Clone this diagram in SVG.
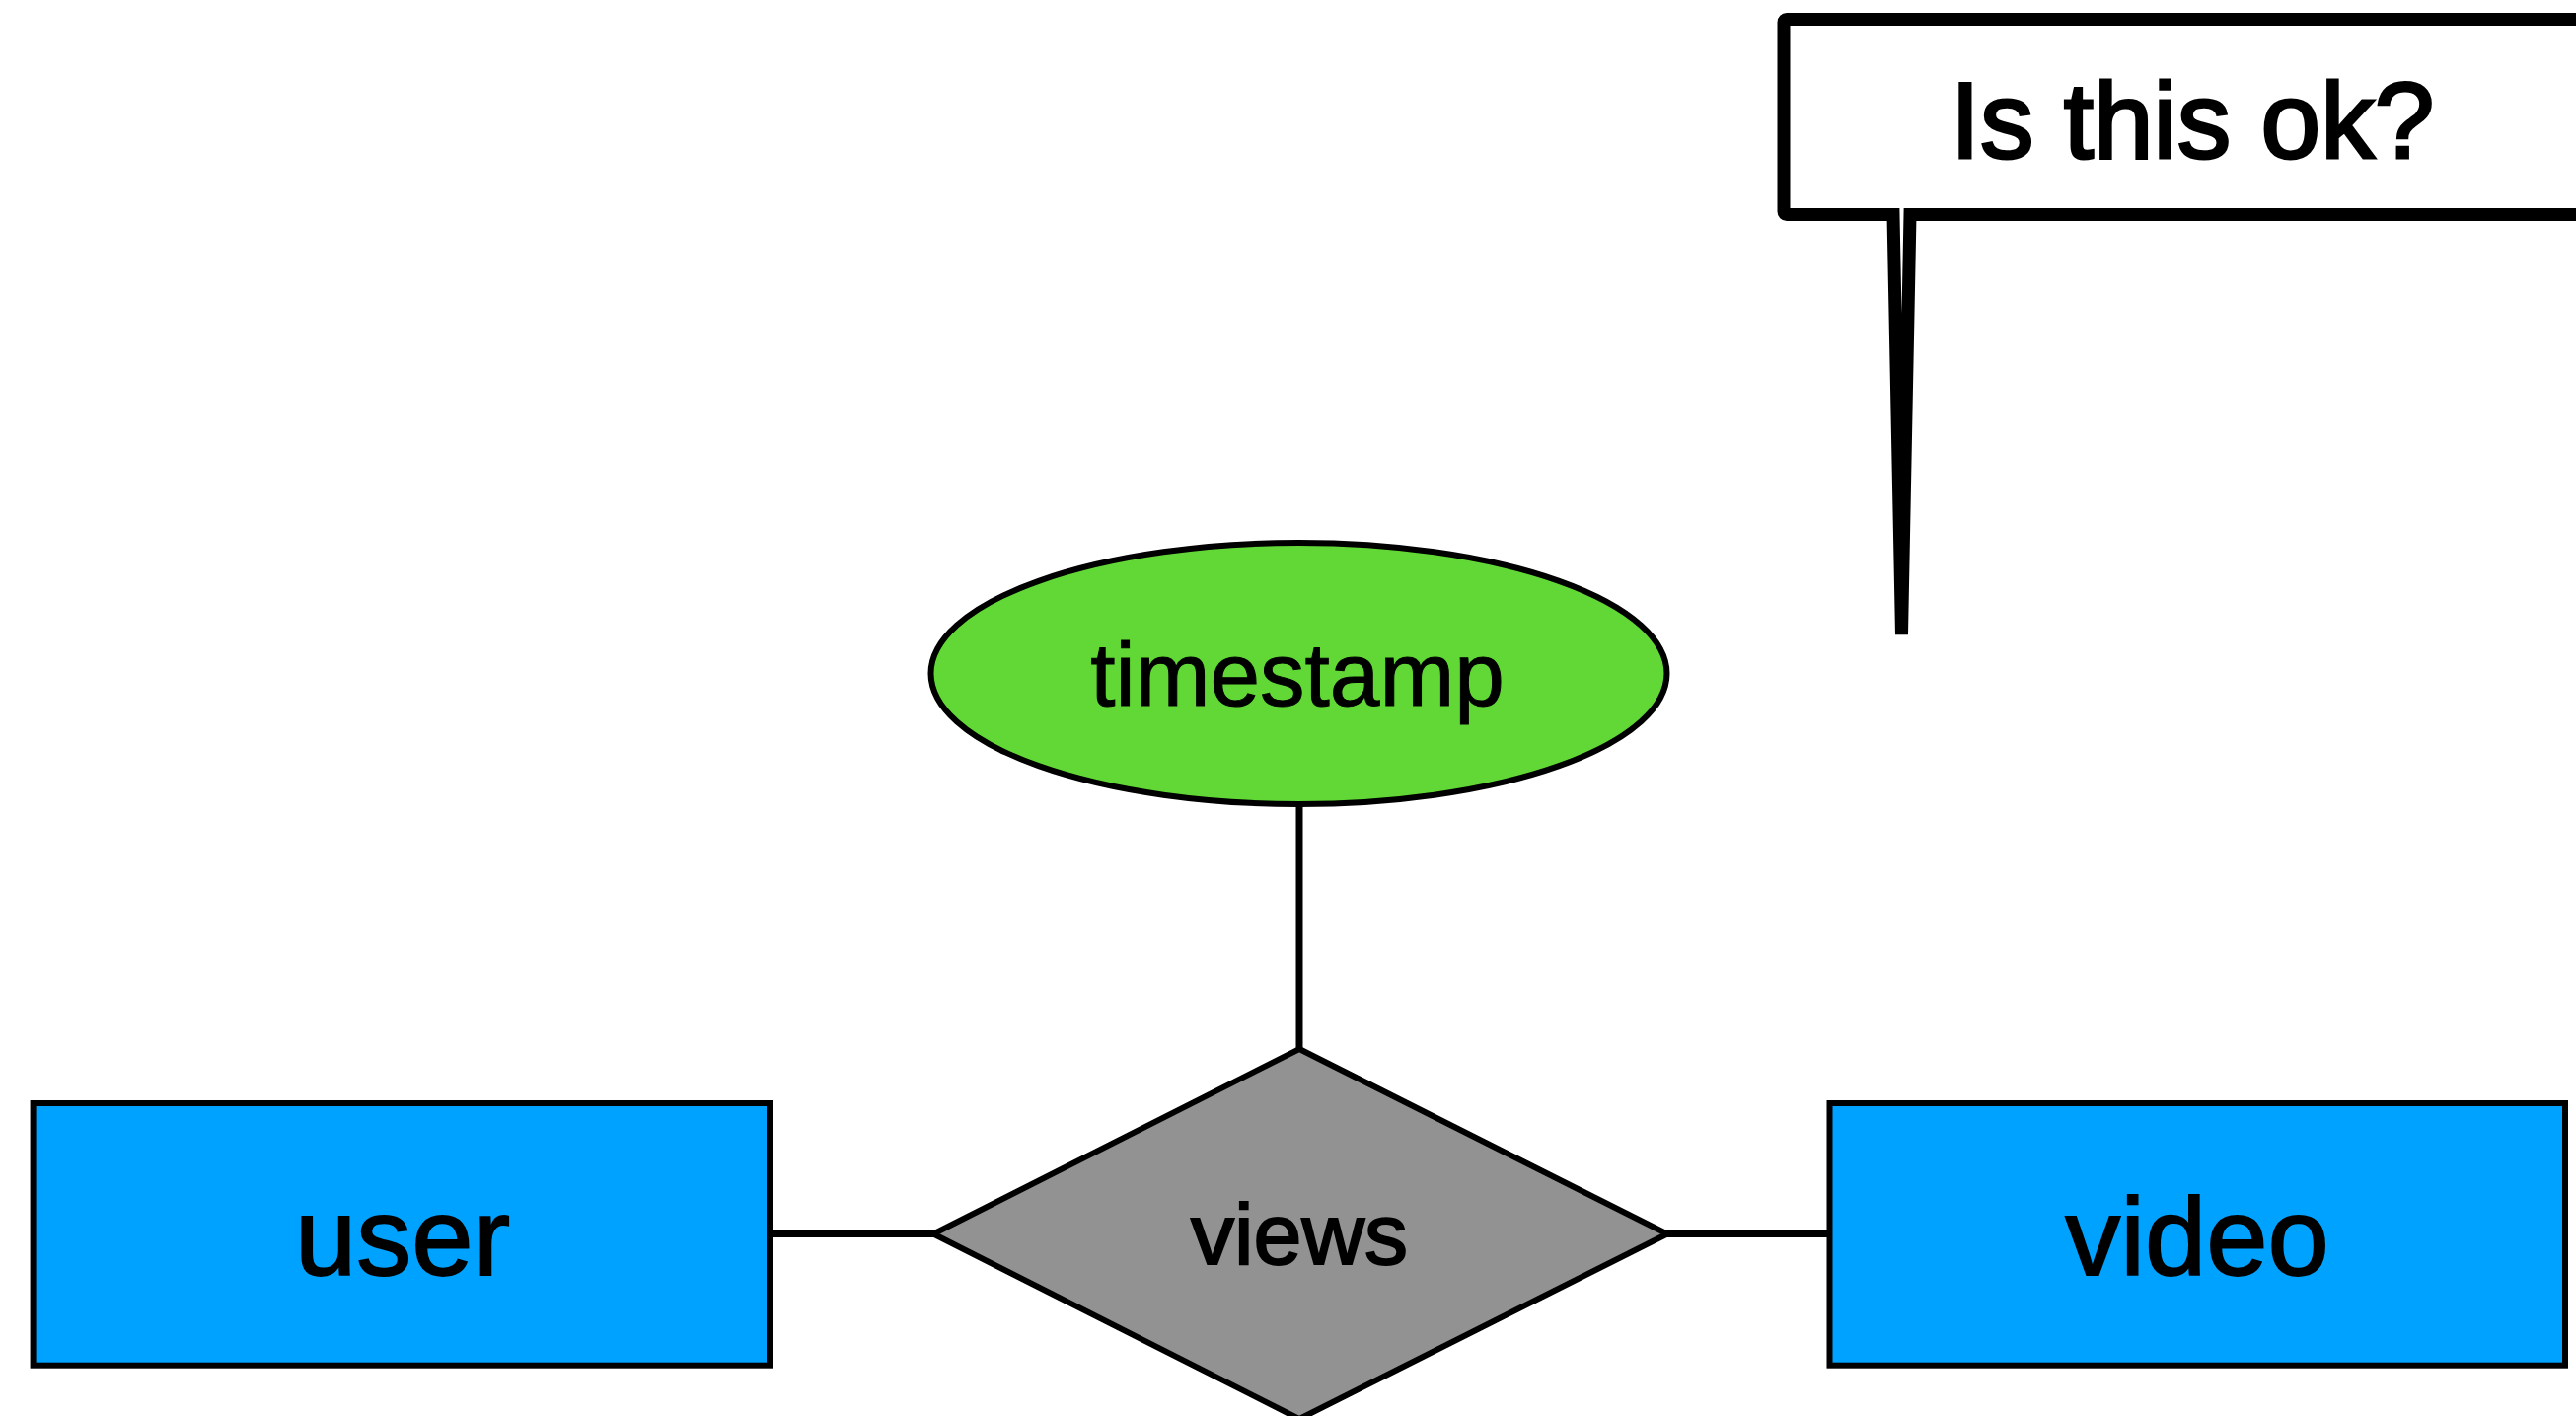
<svg xmlns="http://www.w3.org/2000/svg" width="2611" height="1435" viewBox="0 0 2611 1435">
  <style>
    .lbl { font-family: "Liberation Sans", Arial, Helvetica, sans-serif; fill: #000; stroke: #000; text-anchor: middle; }
    .entity { fill: #00A2FF; stroke: #000; stroke-width: 6; }
    .conn { stroke: #000; stroke-width: 7; fill: none; }
  </style>
  <rect width="2611" height="1435" fill="#fff"/>
  <g id="connectors">
    <line class="conn" x1="783" y1="1250.5" x2="946" y2="1250.5"/>
    <line class="conn" x1="1690" y1="1250.5" x2="1852" y2="1250.5"/>
    <line class="conn" x1="1317" y1="816" x2="1317" y2="1066"/>
  </g>
  <g id="callout">
    <path d="M 1808 22.5 A 3 3 0 0 1 1811 19.5 H 2640 V 217.5 H 1936 L 1927.5 643 L 1919 217.5 H 1811 A 3 3 0 0 1 1808 214.5 Z" fill="#fff" stroke="#000" stroke-width="13" stroke-linejoin="miter" stroke-miterlimit="4"/>
    <text class="lbl" x="2222" y="160" font-size="109" stroke-width="3">Is this ok?</text>
  </g>
  <g id="timestamp">
    <ellipse cx="1316.5" cy="682.5" rx="373" ry="132.5" fill="#61D836" stroke="#000" stroke-width="6"/>
    <text class="lbl" x="1315" y="715" font-size="91" stroke-width="1">timestamp</text>
  </g>
  <g id="views">
    <polygon points="1317,1063 1690,1250.5 1317,1438 946,1250.5" fill="#929292" stroke="#000" stroke-width="6"/>
    <text class="lbl" x="1317" y="1281" font-size="88" stroke-width="2">views</text>
  </g>
  <g id="user">
    <rect class="entity" x="33.6" y="1118" width="746.4" height="265.7"/>
    <text class="lbl" x="408" y="1292" font-size="112" stroke-width="1.8">user</text>
  </g>
  <g id="video">
    <rect class="entity" x="1854.5" y="1118" width="745.5" height="265.7"/>
    <text class="lbl" x="2227" y="1292" font-size="112" stroke-width="1.8">video</text>
  </g>
</svg>
